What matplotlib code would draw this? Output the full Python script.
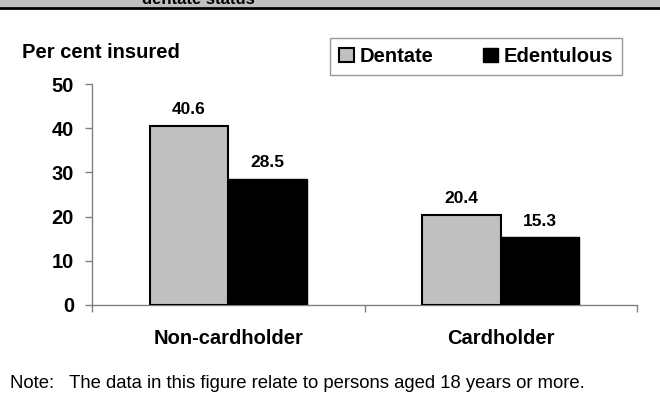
import numpy as np
import matplotlib.pyplot as plt
from matplotlib.patches import Rectangle
from matplotlib.lines import Line2D

plt.rcParams['font.family'] = ['Liberation Sans', 'DejaVu Sans']

# data
categories = ['Non-cardholder', 'Cardholder']
series_names = ['Dentate', 'Edentulous']
dentate = [40.6, 20.4]
edentulous = [28.5, 15.3]
y_ticks = [0, 10, 20, 30, 40, 50]
note = 'Note:   The data in this figure relate to persons aged 18 years or more.'


def draw():
    fig = plt.figure(figsize=(6.6, 4.05), dpi=100)

    # cut off title band at the top
    fig.patches.append(Rectangle((0, 1 - 6.5 / 405), 1, 6.5 / 405, transform=fig.transFigure,
                                 facecolor='#c0c0c0', edgecolor='none', zorder=0))
    fig.lines.append(Line2D([0, 1], [1 - 7.5 / 405, 1 - 7.5 / 405], transform=fig.transFigure,
                            color='black', linewidth=2))
    fig.text(142 / 660, 1 - 4 / 405, 'dentate status', fontsize=12, fontweight='bold',
             va='baseline', ha='left')

    ax = fig.add_axes([92 / 660, 1 - 305 / 405, (637 - 92) / 660, (305 - 84) / 405])
    x = np.arange(len(categories))
    w = 0.288
    b1 = ax.bar(x - w / 2, dentate, w, color='#c0c0c0', edgecolor='black', linewidth=1.5,
                label=series_names[0], zorder=3)
    b2 = ax.bar(x + w / 2, edentulous, w, color='black', edgecolor='black', linewidth=1.0,
                label=series_names[1], zorder=3)
    for bars, vals in ((b1, dentate), (b2, edentulous)):
        for rect, v in zip(bars, vals):
            ax.text(rect.get_x() + rect.get_width() / 2, v + 2.0, f'{v:.1f}',
                    ha='center', va='bottom', fontsize=12.5, fontweight='bold')

    ax.set_xlim(-0.5, 1.5)
    ax.set_ylim(0, 50)
    ax.set_yticks(y_ticks)
    ax.set_yticklabels([str(t) for t in y_ticks], fontsize=14.5, fontweight='bold')
    ax.set_xticks([-0.5, 0.5, 1.5])
    ax.set_xticklabels([])
    ax.set_xticks(x, minor=True)
    ax.set_xticklabels(categories, minor=True, fontsize=14.5, fontweight='bold')
    ax.tick_params(axis='x', which='minor', length=0, pad=17)
    ax.tick_params(axis='x', which='major', length=5, width=1, color='#808080', direction='out')
    ax.tick_params(axis='y', length=5, width=1, color='#808080', direction='out', pad=8)
    for s in ('top', 'right'):
        ax.spines[s].set_visible(False)
    for s in ('left', 'bottom'):
        ax.spines[s].set_color('#808080')
        ax.spines[s].set_linewidth(1)

    fig.text(22 / 660, 1 - 52 / 405, 'Per cent insured', fontsize=14.5, fontweight='bold',
             va='center', ha='left')

    leg = fig.legend(handles=[b1, b2], loc='center', ncol=2,
                     bbox_to_anchor=(476 / 660, 1 - 56.5 / 405),
                     frameon=True, fancybox=False, edgecolor='#808080',
                     prop={'weight': 'bold', 'size': 14.5}, handlelength=0.75, handleheight=0.75,
                     handletextpad=0.25, columnspacing=2.5, borderpad=0.45, borderaxespad=0)
    leg.get_frame().set_linewidth(1)
    leg._legend_box.sep = 0

    fig.text(10 / 660, 1 - 383 / 405, note, fontsize=13.3, va='center', ha='left')

    fig.savefig('out.png', dpi=100)


if __name__ == "__main__":
    draw()
